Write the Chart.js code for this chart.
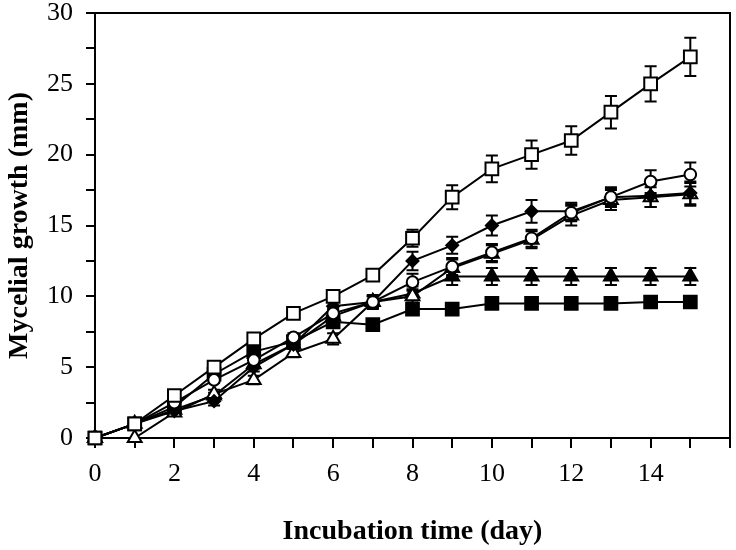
<!DOCTYPE html>
<html>
<head>
<meta charset="utf-8">
<script src="https://cdn.jsdelivr.net/npm/chart.js@4"></script>
<style>
  html, body { margin: 0; padding: 0; background: #fff; overflow: hidden; }
  canvas { display: block; }
</style>
</head>
<body>
<canvas id="growthChart" width="736" height="550"></canvas>
<script>
// Incubation days
const days = [0, 1, 2, 3, 4, 5, 6, 7, 8, 9, 10, 11, 12, 13, 14, 15];

// Mycelial growth (mm) per treatment
const openSquare   = [0, 1, 3, 5, 7, 8.8, 10, 11.5, 14.1, 17, 19, 20, 21, 23, 25, 26.9];
const openCircle   = [0, 1, 2.5, 4.1, 5.5, 7.1, 8.8, 9.6, 11, 12.1, 13.1, 14.1, 15.9, 17, 18.1, 18.6];
const filledDiamond = [0, 1, 1.9, 2.6, 5, 6.6, 9.3, 9.6, 12.5, 13.6, 15, 16, 16, 17, 17.1, 17.3];
const openTriangle = [0, 0, 1.8, 3.1, 4.1, 6, 7, 9.6, 10, 12, 13, 14, 15.7, 16.8, 17, 17.2];
const filledTriangle = [0, 1, 2, 3, 5.2, 6.6, 8.6, 9.6, 10.2, 11.4, 11.4, 11.4, 11.4, 11.4, 11.4, 11.4];
const filledSquare = [0, 1, 2.2, 4.5, 6.1, 6.8, 8.2, 8, 9.1, 9.1, 9.5, 9.5, 9.5, 9.5, 9.6, 9.6];

// Error bars (± mm)
const openSquareErr    = [0, 0, 0.2, 0.2, 0.2, 0.2, 0.3, 0.3, 0.6, 0.85, 0.95, 1, 1, 1.15, 1.25, 1.35];
const openCircleErr    = [0, 0, 0.2, 0.2, 0.2, 0.3, 0.3, 0.4, 0.6, 0.6, 0.6, 0.6, 0.6, 0.6, 0.8, 0.85];
const filledDiamondErr = [0, 0, 0.2, 0.3, 0.3, 0.3, 0.3, 0.4, 0.65, 0.6, 0.7, 0.8, 0.6, 0.7, 0.8, 0.8];
const openTriangleErr  = [0, 0, 0.2, 0.3, 0.3, 0.3, 0.4, 0.5, 0.5, 0.6, 0.6, 0.6, 0.7, 0.7, 0.7, 0.8];
const filledTriangleErr = [0, 0, 0.2, 0.2, 0.3, 0.3, 0.3, 0.4, 0.5, 0.6, 0.6, 0.6, 0.6, 0.6, 0.6, 0.6];
const filledSquareErr  = [0, 0, 0.2, 0.2, 0.2, 0.2, 0.2, 0.2, 0.2, 0.2, 0.2, 0.2, 0.2, 0.2, 0.2, 0.2];

const xTitle = 'Incubation time (day)';
const yTitle = 'Mycelial growth (mm)';

const FONT = "'Liberation Serif', 'Times New Roman', serif";

function toPoints(vals) {
    return days.map((d, i) => ({ x: d, y: vals[i] }));
}

function series(vals, errs, style, radius, fill) {
    return {
        data: toPoints(vals),
        err: errs,
        borderColor: '#000',
        borderWidth: 2,
        pointStyle: style,
        pointRadius: radius,
        pointBorderWidth: 2,
        pointBorderColor: '#000',
        pointBackgroundColor: fill,
        backgroundColor: fill,
        fill: false,
        tension: 0,
        clip: false
    };
}

// error bars drawn behind the markers
const errorBars = {
    id: 'errorBars',
    beforeDatasetsDraw(chart) {
        const ctx = chart.ctx;
        const xs = chart.scales.x, ys = chart.scales.y;
        ctx.save();
        ctx.strokeStyle = '#000';
        ctx.lineWidth = 2;
        chart.data.datasets.forEach(ds => {
            ds.data.forEach((p, i) => {
                const e = ds.err[i];
                if (!e) return;
                const px = xs.getPixelForValue(p.x);
                const top = ys.getPixelForValue(p.y + e);
                const bot = ys.getPixelForValue(p.y - e);
                ctx.beginPath();
                ctx.moveTo(px, top); ctx.lineTo(px, bot);
                ctx.moveTo(px - 6, top); ctx.lineTo(px + 6, top);
                ctx.moveTo(px - 6, bot); ctx.lineTo(px + 6, bot);
                ctx.stroke();
            });
        });
        ctx.restore();
    }
};

// top and right frame lines
const frame = {
    id: 'frame',
    beforeDatasetsDraw(chart) {
        const { ctx, chartArea: a } = chart;
        ctx.save();
        ctx.strokeStyle = '#000';
        ctx.lineWidth = 2;
        ctx.beginPath();
        ctx.moveTo(a.left, a.top);
        ctx.lineTo(a.right, a.top);
        ctx.lineTo(a.right, a.bottom);
        ctx.stroke();
        ctx.restore();
    }
};

const ctx = document.getElementById('growthChart').getContext('2d');

const growthChart = new Chart(ctx, {
    type: 'line',
    data: {
        datasets: [
            series(openSquare, openSquareErr, 'rect', 9, '#fff'),
            series(openCircle, openCircleErr, 'circle', 5.8, '#fff'),
            series(filledDiamond, filledDiamondErr, 'rectRot', 6, '#000'),
            series(openTriangle, openTriangleErr, 'triangle', 8, '#fff'),
            series(filledTriangle, filledTriangleErr, 'triangle', 8, '#000'),
            series(filledSquare, filledSquareErr, 'rect', 9, '#000')
        ]
    },
    options: {
        responsive: false,
        animation: false,
        layout: {
            autoPadding: false,
            padding: { top: 0, left: 0, bottom: 0, right: 6 }
        },
        plugins: {
            legend: { display: false },
            tooltip: { enabled: false }
        },
        scales: {
            x: {
                type: 'linear',
                min: 0,
                max: 16,
                afterFit: scale => {
                    scale.height = 112;
                    scale.paddingLeft = 0;
                    scale.paddingRight = 0;
                },
                border: { display: true, color: '#000', width: 2 },
                grid: {
                    drawOnChartArea: false,
                    drawTicks: true,
                    tickLength: 10,
                    color: '#000',
                    lineWidth: 2
                },
                ticks: {
                    stepSize: 1,
                    autoSkip: false,
                    maxRotation: 0,
                    color: '#000',
                    padding: 0,
                    font: { family: FONT, size: 26, lineHeight: 2 },
                    callback: v => (v % 2 === 0 && v < 16) ? String(v) : ''
                },
                title: {
                    display: true,
                    text: xTitle,
                    color: '#000',
                    font: { family: FONT, size: 28, weight: 'bold' },
                    padding: { top: 0, bottom: 1 }
                }
            },
            y: {
                min: 0,
                max: 30,
                afterFit: scale => {
                    scale.width = 95;
                    scale.paddingTop = 13;
                    scale.paddingBottom = 0;
                },
                border: { display: true, color: '#000', width: 2 },
                grid: {
                    drawOnChartArea: false,
                    drawTicks: true,
                    tickLength: 9,
                    color: '#000',
                    lineWidth: 2
                },
                ticks: {
                    stepSize: 2.5,
                    autoSkip: false,
                    color: '#000',
                    padding: 13,
                    font: { family: FONT, size: 26, lineHeight: 1 },
                    callback: v => (v % 5 === 0) ? String(v) : ''
                },
                title: {
                    display: true,
                    text: yTitle,
                    color: '#000',
                    font: { family: FONT, size: 28, weight: 'bold' },
                    padding: { top: 3, bottom: 0 }
                }
            }
        }
    },
    plugins: [errorBars, frame]
});
</script>
</body>
</html>
